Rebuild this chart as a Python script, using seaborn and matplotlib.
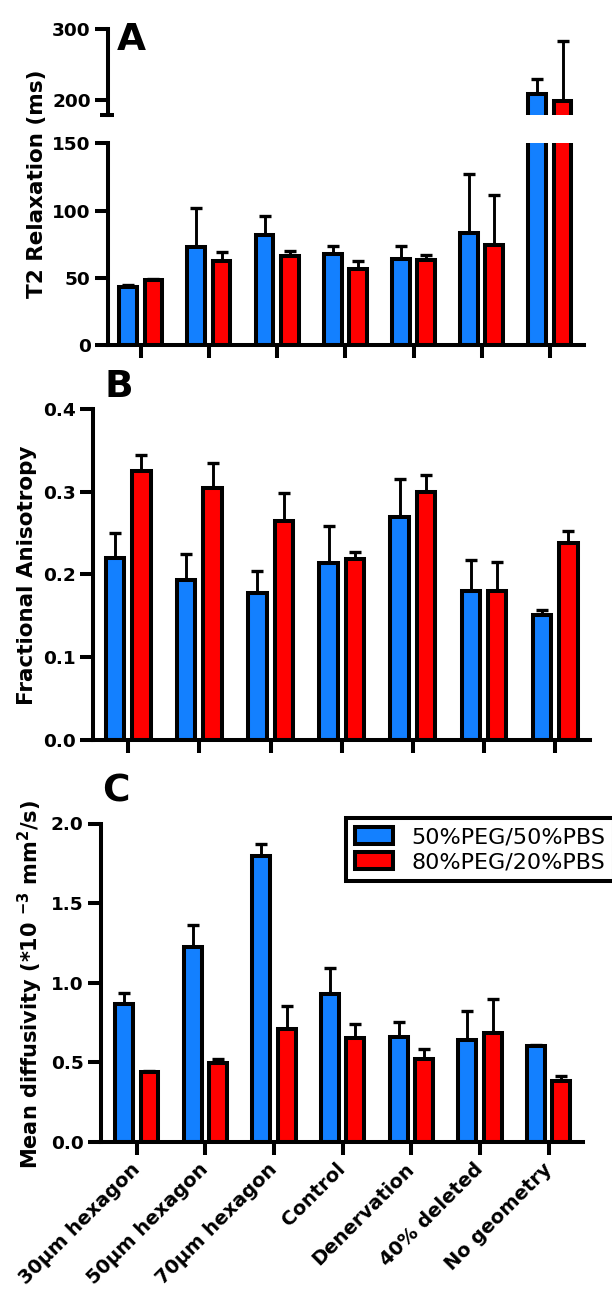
import numpy as np
import pandas as pd
import matplotlib
matplotlib.use("Agg")
import matplotlib.pyplot as plt
from matplotlib.ticker import FormatStrFormatter
import seaborn as sns

# ---------------- data ----------------
categories = ["30µm hexagon", "50µm hexagon", "70µm hexagon", "Control",
              "Denervation", "40% deleted", "No geometry"]
groups = ["50%PEG/50%PBS", "80%PEG/20%PBS"]

t2_peg50 = [43.1, 72.6, 81.8, 67.7, 64.2, 83.0, 208.0]
t2_peg50_err = [1.5, 29.5, 14.0, 6.2, 9.7, 44.4, 21.7]
t2_peg80 = [48.3, 62.5, 66.2, 56.8, 63.2, 74.4, 198.6]
t2_peg80_err = [0.6, 6.5, 4.0, 5.7, 3.5, 37.4, 85.4]

fa_peg50 = [0.220, 0.1935, 0.178, 0.214, 0.269, 0.180, 0.151]
fa_peg50_err = [0.030, 0.031, 0.026, 0.045, 0.046, 0.038, 0.006]
fa_peg80 = [0.325, 0.3045, 0.265, 0.2186, 0.2996, 0.180, 0.2377]
fa_peg80_err = [0.020, 0.030, 0.033, 0.009, 0.021, 0.035, 0.015]

md_peg50 = [0.866, 1.223, 1.794, 0.931, 0.655, 0.641, 0.599]
md_peg50_err = [0.070, 0.136, 0.076, 0.161, 0.097, 0.178, 0.006]
md_peg80 = [0.441, 0.494, 0.708, 0.651, 0.519, 0.683, 0.382]
md_peg80_err = [0.003, 0.025, 0.143, 0.090, 0.063, 0.212, 0.034]

t2_ticks_low = [0, 50, 100, 150]
t2_ticks_high = [200, 300]
fa_ticks = [0.0, 0.1, 0.2, 0.3, 0.4]
md_ticks = [0.0, 0.5, 1.0, 1.5, 2.0]

# ---------------- style ----------------
sns.set_style("ticks")
plt.rcParams["font.family"] = ["DejaVu Sans"]
plt.rcParams["font.weight"] = "bold"
plt.rcParams["axes.labelweight"] = "bold"
plt.rcParams["mathtext.fontset"] = "dejavusans"
plt.rcParams["mathtext.default"] = "bf"
for k in ["axes.edgecolor", "xtick.color", "ytick.color", "text.color", "axes.labelcolor"]:
    plt.rcParams[k] = "black"

BLUE = "#1380FF"
RED = "#FF0000"
LW = 2.9

W, H = 612, 1292
fig = plt.figure(figsize=(W / 100, H / 100), dpi=100)


def add_ax(l, r, t, b):
    return fig.add_axes([l / W, 1 - b / H, (r - l) / W, (b - t) / H])


def draw(ax, v1, e1, v2, e2):
    df = pd.DataFrame({
        "category": categories * 2,
        "group": [groups[0]] * len(categories) + [groups[1]] * len(categories),
        "value": list(v1) + list(v2),
    })
    sns.barplot(data=df, x="category", y="value", hue="group", order=categories,
                hue_order=groups, palette=[BLUE, RED], saturation=1, width=0.74,
                gap=0.3, edgecolor="black", linewidth=LW, errorbar=None,
                legend=False, ax=ax)
    conts = list(ax.containers)
    for cont, err in zip(conts, [e1, e2]):
        xs = [p.get_x() + p.get_width() / 2 for p in cont.patches]
        ys = [p.get_height() for p in cont.patches]
        ax.errorbar(xs, ys, yerr=[np.zeros(len(err)), err], fmt="none",
                    ecolor="black", elinewidth=2.1, capsize=4, capthick=2.4,
                    zorder=0.9)
    ax.set_xlabel("")
    ax.set_ylabel("")
    return conts


def style(ax, xlim, labelbottom=False):
    sns.despine(ax=ax)
    for s in ["left", "bottom"]:
        ax.spines[s].set_linewidth(LW)
    ax.tick_params(axis="both", which="major", length=9.5, width=LW,
                   labelsize=13.3, pad=3)
    ax.tick_params(axis="x", labelbottom=labelbottom, labelsize=14, pad=8)
    ax.set_xlim(*xlim)


# ---------------- Panel A (broken axis) ----------------
ax_a_hi = add_ax(108, 584, 29.3, 115)
ax_a_lo = add_ax(108, 584, 143.3, 345)
for ax in (ax_a_hi, ax_a_lo):
    draw(ax, t2_peg50, t2_peg50_err, t2_peg80, t2_peg80_err)
    style(ax, (-0.48, 6.5))
ax_a_lo.set_ylim(0, 150)
ax_a_lo.set_yticks(t2_ticks_low)
ax_a_hi.set_ylim(178.7, 300)
ax_a_hi.set_yticks(t2_ticks_high)
ax_a_hi.spines["bottom"].set_visible(False)
ax_a_hi.tick_params(axis="x", bottom=False, labelbottom=False)
ax_a_hi.plot([-0.0168, 0.0126], [0, 0], transform=ax_a_hi.transAxes,
             color="black", lw=LW, clip_on=False, solid_capstyle="butt")
ax_a_lo.set_ylabel("T2 Relaxation (ms)", fontsize=15.5)
ax_a_lo.yaxis.set_label_coords(46.7 / W, 1 - 184 / H, transform=fig.transFigure)

# ---------------- Panel B ----------------
ax_b = add_ax(93, 590, 409, 740)
draw(ax_b, fa_peg50, fa_peg50_err, fa_peg80, fa_peg80_err)
style(ax_b, (-0.496, 6.49))
ax_b.set_ylim(0, 0.4)
ax_b.set_yticks(fa_ticks)
ax_b.yaxis.set_major_formatter(FormatStrFormatter("%.1f"))
ax_b.set_ylabel("Fractional Anisotropy", fontsize=15.5)
ax_b.yaxis.set_label_coords(36.7 / W, 1 - 575 / H, transform=fig.transFigure)

# ---------------- Panel C ----------------
ax_c = add_ax(101, 583, 823.5, 1141.7)
conts_c = draw(ax_c, md_peg50, md_peg50_err, md_peg80, md_peg80_err)
style(ax_c, (-0.52, 6.5), labelbottom=True)
ax_c.set_ylim(0, 2.0)
ax_c.set_yticks(md_ticks)
ax_c.yaxis.set_major_formatter(FormatStrFormatter("%.1f"))
plt.setp(ax_c.get_xticklabels(), rotation=45, ha="right", va="center",
         rotation_mode="anchor")
ax_c.set_ylabel(r"Mean diffusivity (*10 $^{-3}$ mm$^{2}$/s)", fontsize=15)
ax_c.yaxis.set_label_coords(45 / W, 1 - 984 / H, transform=fig.transFigure)

leg = ax_c.legend([conts_c[0].patches[0], conts_c[1].patches[0]], groups,
                  loc="upper left", bbox_to_anchor=(345.7 / W, 1 - 818.3 / H),
                  bbox_transform=fig.transFigure, borderaxespad=0, frameon=True,
                  fancybox=False, edgecolor="black", framealpha=1,
                  prop={"size": 16, "weight": "normal"}, handlelength=1.75,
                  handleheight=0.8, handletextpad=0.8, labelspacing=0.2,
                  borderpad=0.4)
leg.get_frame().set_linewidth(LW)

# ---------------- panel letters ----------------
fig.text(117 / W, 1 - 50 / H, "A", fontsize=27, fontweight="bold", va="baseline")
fig.text(104 / W, 1 - 396.7 / H, "B", fontsize=27, fontweight="bold", va="baseline")
fig.text(101.7 / W, 1 - 801.7 / H, "C", fontsize=27, fontweight="bold", va="baseline")

fig.savefig("out.png", dpi=100)
